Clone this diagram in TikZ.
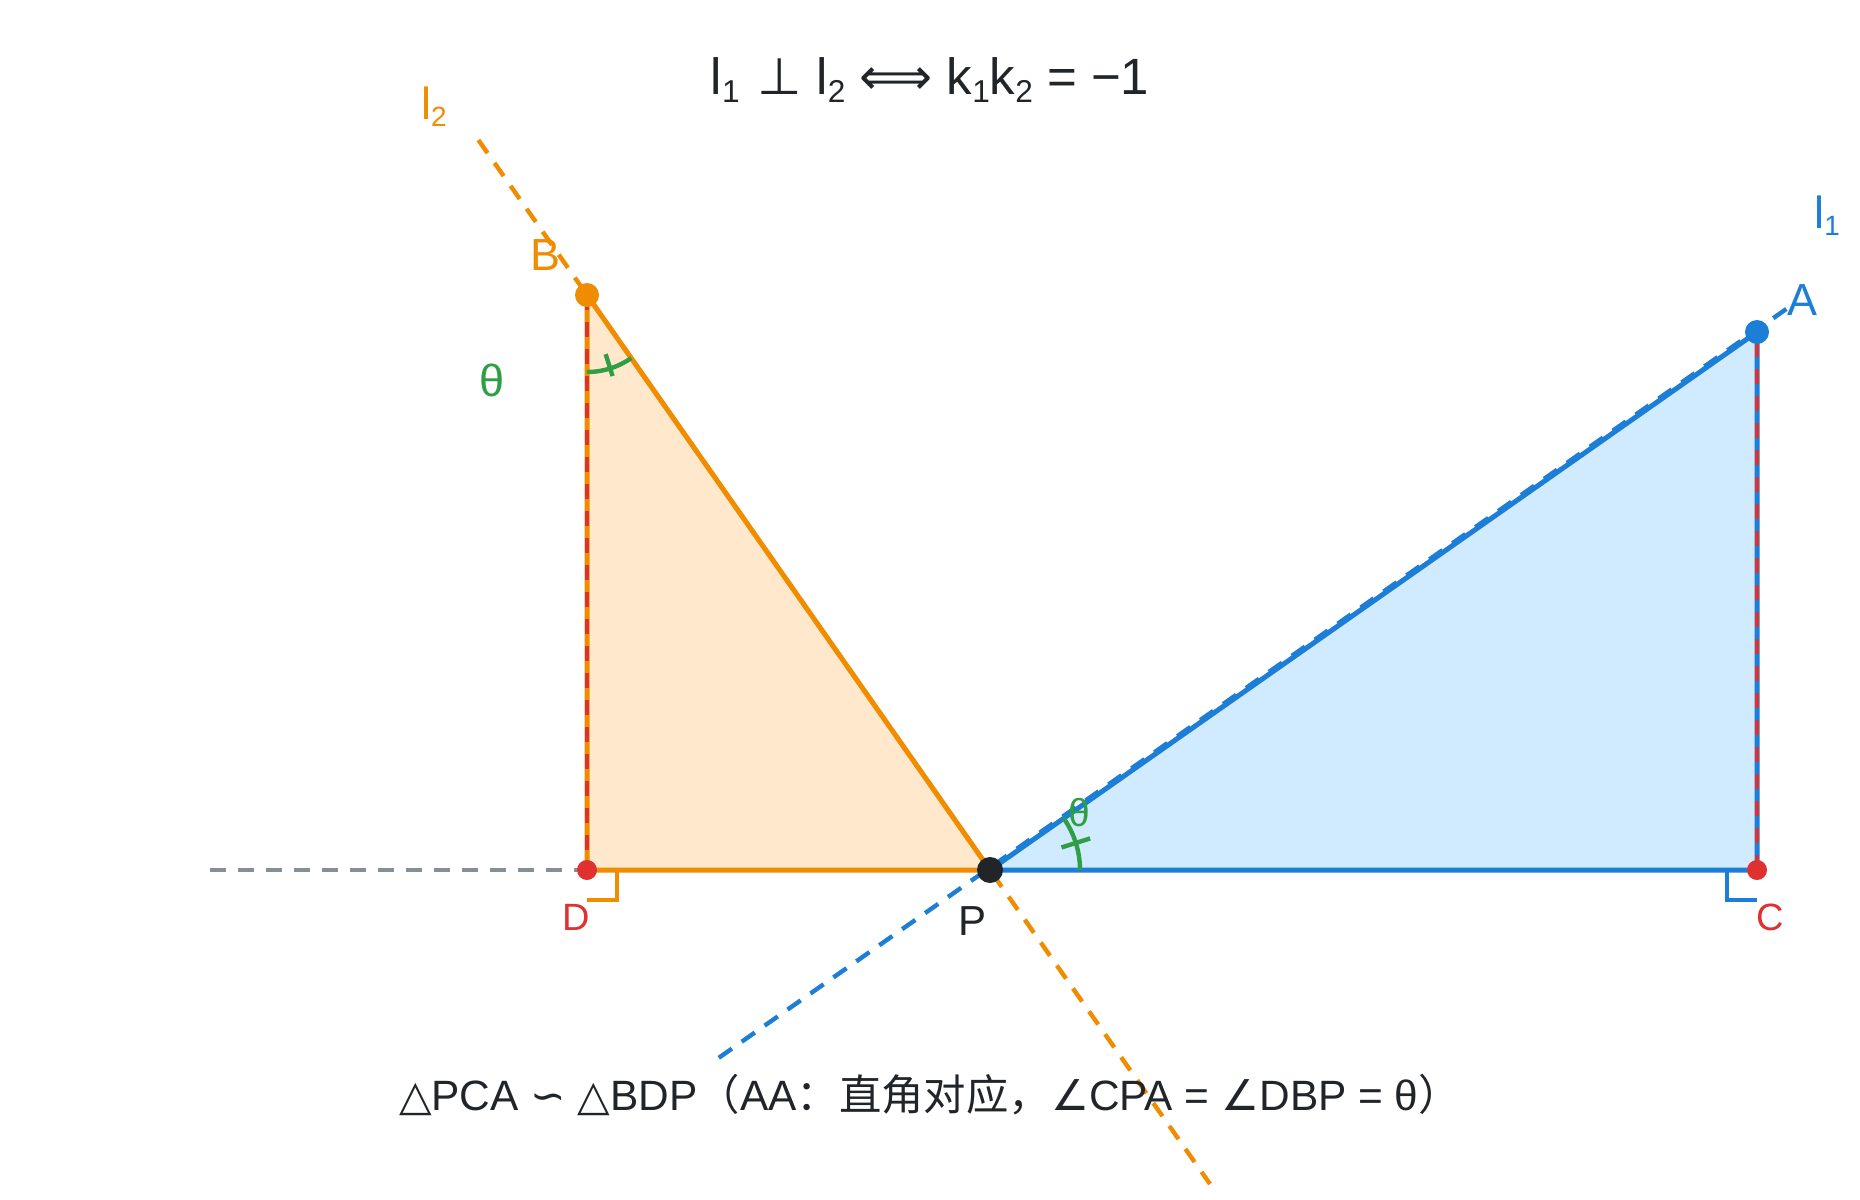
\documentclass[tikz,border=0pt]{standalone}
\usepackage{fontspec}
\usepackage{graphicx}
\setmainfont{Liberation Sans}
\newfontfamily\cjkf{Noto Sans CJK SC}
\newfontfamily\symf{DejaVu Sans}
\newcommand\sbx[1]{\raisebox{-0.16em}{\scalebox{0.62}{#1}}}
\definecolor{cOrange}{HTML}{F08C00}
\definecolor{cOrangeF}{HTML}{FFE8CC}
\definecolor{cBlue}{HTML}{1C7ED6}
\definecolor{cBlueF}{HTML}{D0EBFF}
\definecolor{cRed}{HTML}{E03131}
\definecolor{cGreen}{HTML}{2F9E44}
\definecolor{cDark}{HTML}{212529}
\definecolor{cGray}{HTML}{868E96}
\tikzset{
  edge/.style={line width=2.5pt, line join=round},
  dline/.style={line width=2.2pt, dash pattern=on 8pt off 6pt},
  rmark/.style={line width=2pt, line join=miter},
  amark/.style={cGreen, line width=2.2pt},
  dot/.style={circle, inner sep=0pt, minimum size=#1},
  lbl/.style={inner sep=0pt, anchor=base, font=\fontsize{22.5pt}{27pt}\selectfont},
}
\begin{document}
\begin{tikzpicture}[x=0.5pt, y=-0.5pt]
\useasboundingbox (0,0) rectangle (1860,1200);
% vertices
\coordinate (P) at (990,870);
\coordinate (A) at (1757,332);
\coordinate (B) at (587,295);
\coordinate (C) at (1757,870);
\coordinate (D) at (587,870);
\coordinate (L1a) at (718.8,1057.8);
\coordinate (L1b) at (1790.3,306.2);
\coordinate (L2a) at (478.4,140);
\coordinate (L2b) at (1210,1184);
\coordinate (G0) at (210,870);
% fills
\fill[cOrangeF] (B) -- (D) -- (P) -- cycle;
\fill[cBlueF] (P) -- (C) -- (A) -- cycle;
% triangle edges
\draw[edge, cOrange] (B) -- (D) -- (P) -- cycle;
\draw[edge, cBlue] (P) -- (C) -- (A) -- cycle;
% dashed lines
\draw[dline, cBlue] (L1a) -- (L1b);
\draw[dline, cOrange] (L2a) -- (L2b);
\draw[dline, cGray] (G0) -- (D);
\draw[dline, cRed, dash pattern=on 7.5pt off 6pt] (B) -- (D);
\draw[dline, cRed, dash pattern=on 7.5pt off 6pt] (C) -- (A);
% right angle marks
\draw[rmark, cOrange] (617,870) -- (617,900) -- (D |- 0,900);
\draw[rmark, cBlue] (1727,870) -- (1727,900) -- (C |- 0,900);
% angle marks
\draw[amark] plot[domain=54.97:90, samples=30] ({587+77*cos(\x)}, {295+77*sin(\x)});
\draw[amark] ({587+62*cos(72.5)}, {295+62*sin(72.5)}) -- ({587+85*cos(72.5)}, {295+85*sin(72.5)});
\draw[amark] plot[domain=-35.05:0, samples=30] ({990+90*cos(\x)}, {870+90*sin(\x)});
\draw[amark] ({990+75*cos(-17.5)}, {870+75*sin(-17.5)}) -- ({990+105*cos(-17.5)}, {870+105*sin(-17.5)});
% points
\node[dot=12pt, fill=cOrange] (Bdot) at (B) {};
\node[dot=12pt, fill=cBlue] (Adot) at (A) {};
\node[dot=10pt, fill=cRed] (Ddot) at (D) {};
\node[dot=10pt, fill=cRed] (Cdot) at (C) {};
\node[dot=13pt, fill=cDark] (Pdot) at (P) {};
% labels
\node[lbl, text=cOrange] (lB) at (546,270) {B};
\node[lbl, text=cBlue] (lA) at (1802,315) {A};
\node[lbl, text=cRed, font=\fontsize{19pt}{23pt}\selectfont] (lD) at (576.5,930) {D};
\node[lbl, text=cRed, font=\fontsize{19pt}{23pt}\selectfont] (lC) at (1770,930) {C};
\node[lbl, text=cDark, font=\fontsize{21pt}{25pt}\selectfont] (lP) at (972.5,935) {P};
\node[lbl, text=cGreen] (th1) at (492,396.7) {θ};
\node[lbl, text=cGreen, font=\fontsize{19.5pt}{23pt}\selectfont] (th2) at (1079.5,826.7) {θ};
\node[lbl, text=cOrange] (ll2) at (434,119) {l\sbx{2}};
\node[lbl, text=cBlue] (ll1) at (1827,228) {l\sbx{1}};
\node[lbl, text=cDark, font=\fontsize{25.5pt}{30pt}\selectfont] (title) at (930,94)
  {l\sbx{1}\hspace{0.08em} {\symf ⊥} l\sbx{2} {\symf ⟺} k\sbx{1}k\sbx{2} = −1};
\node[lbl, text=cDark, font=\fontsize{21.2pt}{25pt}\selectfont] (bottom) at (930,1110)
  {{\symf △}PCA {\symf ∽} {\symf △}BDP{\cjkf （}AA{\cjkf ：直角对应，}{\symf ∠}CPA = {\symf ∠}DBP = θ{\cjkf ）}};
\end{tikzpicture}
\end{document}
